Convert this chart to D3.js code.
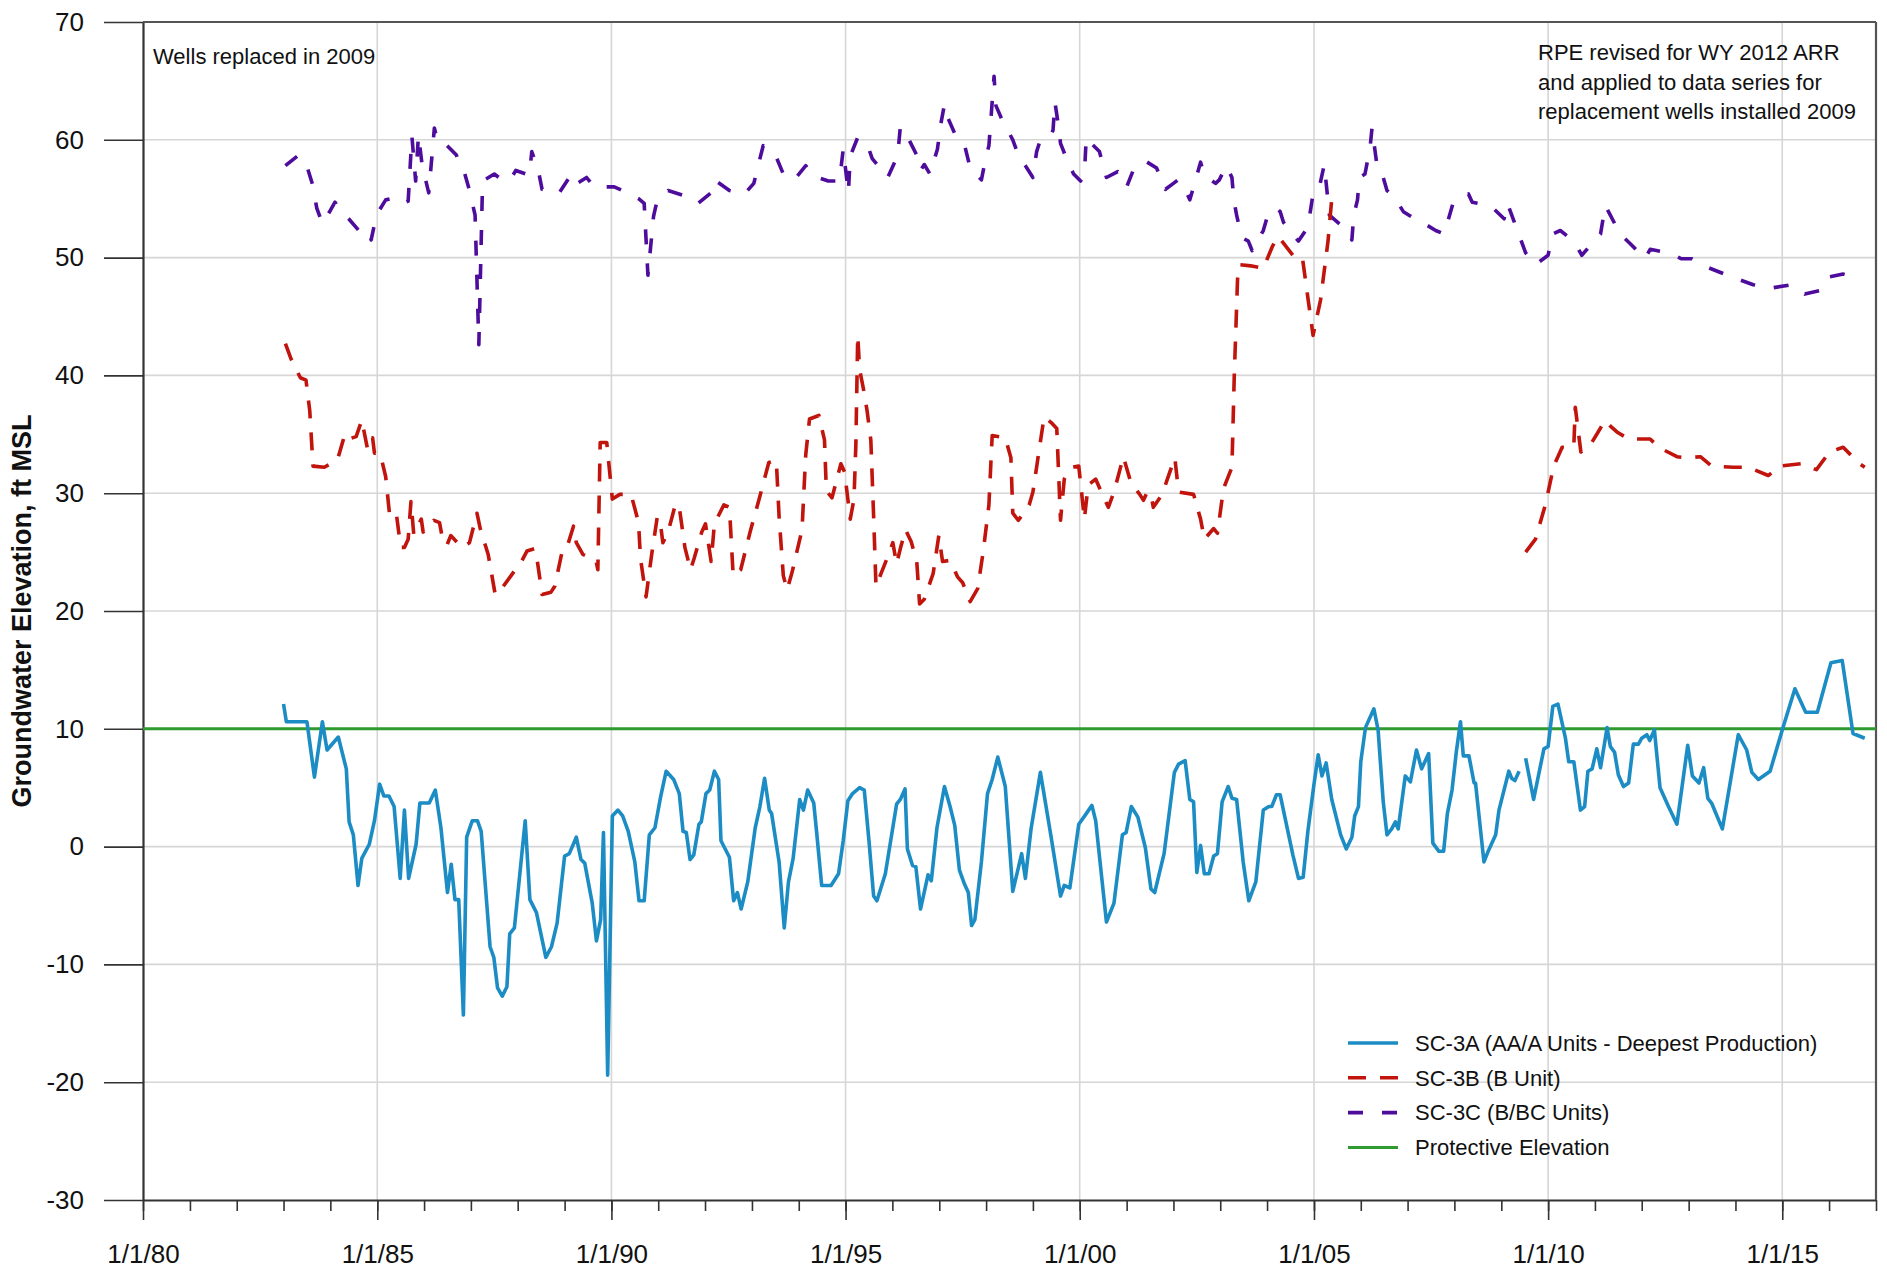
<!DOCTYPE html>
<html><head><meta charset="utf-8">
<script src="https://cdn.jsdelivr.net/npm/d3@7"></script>
<style>body{margin:0;background:#fff}svg{display:block}text{font-family:"Liberation Sans",Arial,Helvetica,sans-serif;fill:#111}</style>
</head><body><svg id="chart" width="1887" height="1273"></svg>
<script>
// ---- data: [decimal year, elevation ft MSL] ----
const sc3aOld = [[1983.00,12.1],[1983.06,10.6],[1983.50,10.6],[1983.66,5.9],[1983.83,10.6],[1983.93,8.2],[1984.17,9.3],[1984.34,6.6],[1984.40,2.1],[1984.49,1.0],[1984.59,-3.3],[1984.67,-1.0],[1984.83,0.2],[1984.94,2.2],[1985.05,5.3],[1985.14,4.3],[1985.25,4.3],[1985.36,3.4],[1985.49,-2.7],[1985.58,3.1],[1985.67,-2.7],[1985.83,0.2],[1985.91,3.7],[1986.11,3.7],[1986.24,4.8],[1986.36,1.6],[1986.50,-3.9],[1986.58,-1.5],[1986.66,-4.5],[1986.74,-4.5],[1986.84,-14.3],[1986.91,0.8],[1987.03,2.2],[1987.14,2.2],[1987.22,1.3],[1987.41,-8.5],[1987.49,-9.4],[1987.57,-12.0],[1987.67,-12.7],[1987.77,-11.9],[1987.83,-7.4],[1987.93,-6.9],[1988.16,2.2],[1988.26,-4.5],[1988.40,-5.6],[1988.60,-9.4],[1988.72,-8.5],[1988.84,-6.5],[1989.00,-0.8],[1989.10,-0.6],[1989.25,0.8],[1989.35,-1.1],[1989.43,-1.4],[1989.59,-4.8],[1989.68,-8.0],[1989.77,-6.2],[1989.83,1.2],[1989.92,-19.4],[1990.02,2.6],[1990.14,3.1],[1990.24,2.6],[1990.36,1.3],[1990.50,-1.3],[1990.59,-4.6],[1990.70,-4.6],[1990.81,1.0],[1990.93,1.6],[1991.05,4.2],[1991.17,6.4],[1991.33,5.7],[1991.45,4.5],[1991.53,1.3],[1991.60,1.2],[1991.68,-1.1],[1991.76,-0.7],[1991.87,1.9],[1991.92,2.1],[1992.02,4.5],[1992.10,4.8],[1992.20,6.4],[1992.29,5.7],[1992.34,0.5],[1992.52,-0.9],[1992.61,-4.6],[1992.69,-3.9],[1992.77,-5.3],[1992.91,-3.0],[1993.07,1.6],[1993.17,3.4],[1993.27,5.8],[1993.37,3.1],[1993.42,2.8],[1993.58,-1.3],[1993.69,-6.9],[1993.78,-3.0],[1993.88,-1.0],[1994.02,4.0],[1994.10,3.1],[1994.19,4.8],[1994.32,3.7],[1994.38,1.3],[1994.49,-3.3],[1994.69,-3.3],[1994.85,-2.3],[1994.95,0.5],[1995.05,3.9],[1995.15,4.5],[1995.30,5.0],[1995.40,4.8],[1995.50,0.5],[1995.60,-4.2],[1995.67,-4.6],[1995.85,-2.3],[1996.09,3.6],[1996.17,4.0],[1996.27,4.9],[1996.32,-0.2],[1996.43,-1.6],[1996.50,-1.7],[1996.60,-5.3],[1996.76,-2.4],[1996.83,-2.9],[1996.95,1.6],[1997.11,5.1],[1997.23,3.4],[1997.33,1.8],[1997.43,-2.0],[1997.54,-3.2],[1997.62,-3.9],[1997.69,-6.7],[1997.76,-6.2],[1997.90,-1.3],[1998.03,4.5],[1998.13,5.7],[1998.25,7.6],[1998.41,5.1],[1998.57,-3.8],[1998.76,-0.6],[1998.84,-2.7],[1998.96,1.5],[1999.16,6.3],[1999.39,0.8],[1999.59,-4.2],[1999.67,-3.3],[1999.79,-3.5],[1999.98,1.9],[2000.14,2.8],[2000.26,3.5],[2000.34,2.2],[2000.57,-6.4],[2000.73,-4.8],[2000.91,1.0],[2000.99,1.2],[2001.10,3.4],[2001.24,2.5],[2001.40,-0.1],[2001.52,-3.6],[2001.60,-3.9],[2001.80,-0.6],[2002.02,6.3],[2002.11,7.0],[2002.25,7.3],[2002.35,4.0],[2002.43,3.8],[2002.50,-2.2],[2002.58,0.1],[2002.66,-2.3],[2002.76,-2.3],[2002.86,-0.8],[2002.94,-0.6],[2003.04,3.8],[2003.17,5.1],[2003.25,4.1],[2003.35,4.0],[2003.49,-1.3],[2003.61,-4.6],[2003.76,-3.0],[2003.92,3.1],[2004.04,3.4],[2004.10,3.4],[2004.20,4.4],[2004.28,4.4],[2004.55,-0.7],[2004.67,-2.7],[2004.77,-2.6],[2004.87,1.3],[2005.00,5.3],[2005.09,7.8],[2005.17,6.0],[2005.26,7.1],[2005.38,4.0],[2005.57,1.0],[2005.69,-0.2],[2005.81,0.8],[2005.87,2.6],[2005.95,3.4],[2006.00,7.2],[2006.10,10.1],[2006.28,11.7],[2006.37,9.9],[2006.48,3.8],[2006.56,1.0],[2006.66,1.5],[2006.74,2.1],[2006.80,1.5],[2006.95,6.0],[2007.06,5.5],[2007.19,8.2],[2007.30,6.6],[2007.45,7.9],[2007.54,0.3],[2007.67,-0.4],[2007.77,-0.4],[2007.85,2.8],[2007.95,4.8],[2008.04,8.0],[2008.13,10.6],[2008.19,7.7],[2008.31,7.7],[2008.42,5.4],[2008.45,5.4],[2008.63,-1.3],[2008.73,-0.3],[2008.88,1.0],[2008.95,3.1],[2009.16,6.4],[2009.22,5.8],[2009.29,5.6],[2009.38,6.4]];
const sc3aNew = [[2009.52,7.5],[2009.69,4.0],[2009.91,8.3],[2010.00,8.5],[2010.10,11.9],[2010.21,12.1],[2010.37,9.2],[2010.44,7.2],[2010.55,7.2],[2010.69,3.1],[2010.78,3.4],[2010.85,6.4],[2010.94,6.6],[2011.04,8.3],[2011.12,6.7],[2011.26,10.1],[2011.33,8.5],[2011.42,8.0],[2011.50,6.1],[2011.61,5.1],[2011.72,5.4],[2011.82,8.7],[2011.93,8.7],[2012.00,9.2],[2012.11,9.5],[2012.17,9.0],[2012.27,9.9],[2012.39,5.0],[2012.57,3.4],[2012.75,1.9],[2012.98,8.6],[2013.08,6.0],[2013.22,5.4],[2013.32,6.7],[2013.41,4.1],[2013.49,3.7],[2013.72,1.5],[2014.06,9.5],[2014.24,8.2],[2014.35,6.3],[2014.49,5.7],[2014.74,6.4],[2015.00,9.9],[2015.27,13.4],[2015.50,11.4],[2015.75,11.4],[2016.04,15.6],[2016.28,15.8],[2016.51,9.6],[2016.76,9.2]];
const sc3bOld = [[1983.04,42.7],[1983.16,41.4],[1983.36,39.8],[1983.48,39.6],[1983.56,37.0],[1983.63,32.3],[1983.87,32.2],[1984.15,32.8],[1984.31,35.0],[1984.39,34.6],[1984.55,34.8],[1984.67,36.2],[1984.79,33.8],[1984.83,34.7],[1984.90,34.7],[1984.94,33.4],[1985.06,33.4],[1985.18,31.4],[1985.26,28.3],[1985.40,28.5],[1985.50,25.4],[1985.58,25.4],[1985.66,26.1],[1985.72,29.3],[1985.78,26.5],[1985.86,27.2],[1985.94,27.8],[1985.98,26.7],[1986.21,27.7],[1986.33,27.5],[1986.40,26.0],[1986.49,25.6],[1986.57,26.4],[1986.81,25.4],[1986.97,25.8],[1987.13,28.3],[1987.20,27.0],[1987.37,24.8],[1987.52,21.4],[1987.60,21.6],[1987.84,22.9],[1988.08,24.2],[1988.20,25.1],[1988.36,25.3],[1988.42,24.2],[1988.52,21.4],[1988.71,21.6],[1988.79,22.1],[1988.95,25.1],[1989.05,25.4],[1989.19,27.2],[1989.25,25.8],[1989.39,24.8],[1989.67,24.3],[1989.71,23.5],[1989.76,34.3],[1989.90,34.3],[1990.02,29.5],[1990.18,29.9],[1990.42,29.9],[1990.58,27.5],[1990.62,24.5],[1990.74,21.2],[1990.86,24.8],[1990.98,28.0],[1991.06,27.0],[1991.10,25.8],[1991.21,26.7],[1991.37,29.1],[1991.45,28.8],[1991.57,25.4],[1991.69,23.5],[1991.77,24.5],[1991.93,26.7],[1992.01,27.4],[1992.13,24.2],[1992.20,27.4],[1992.40,29.0],[1992.52,28.8],[1992.60,23.0],[1992.76,23.5],[1992.96,26.7],[1993.16,29.6],[1993.36,32.6],[1993.52,32.8],[1993.58,28.0],[1993.67,23.0],[1993.75,21.8],[1993.83,22.9],[1993.87,23.5],[1994.07,26.9],[1994.11,30.2],[1994.15,33.3],[1994.23,36.3],[1994.43,36.6],[1994.55,34.5],[1994.59,30.2],[1994.71,29.6],[1994.90,32.5],[1994.98,31.8],[1995.10,27.8],[1995.18,29.5],[1995.22,34.1],[1995.26,43.4],[1995.30,40.5],[1995.38,38.9],[1995.46,37.0],[1995.54,34.5],[1995.60,28.0],[1995.65,22.1],[1995.89,24.5],[1996.01,25.8],[1996.09,24.0],[1996.17,25.3],[1996.28,26.9],[1996.40,25.9],[1996.52,24.2],[1996.58,20.6],[1996.68,21.0],[1996.87,23.2],[1996.99,26.4],[1997.07,24.2],[1997.23,24.3],[1997.39,22.9],[1997.50,22.4],[1997.66,20.8],[1997.82,21.9],[1997.94,25.1],[1998.06,29.0],[1998.13,34.9],[1998.41,34.7],[1998.53,33.0],[1998.57,28.3],[1998.69,27.7],[1998.92,29.0],[1999.00,30.1],[1999.12,33.3],[1999.24,36.5],[1999.39,36.0],[1999.51,35.5],[1999.59,27.7],[1999.67,31.2],[1999.83,32.2],[1999.98,32.3],[2000.10,27.8],[2000.18,30.7],[2000.34,31.2],[2000.46,30.1],[2000.61,28.8],[2000.73,30.1],[2000.93,33.1],[2001.09,30.9],[2001.28,29.9],[2001.36,29.4],[2001.44,30.1],[2001.52,29.9],[2001.57,28.8],[2001.76,29.9],[2001.87,31.2],[2002.03,33.0],[2002.11,30.1],[2002.43,29.9],[2002.58,27.8],[2002.66,26.1],[2002.86,27.0],[2002.94,26.6],[2003.07,30.4],[2003.25,32.2],[2003.30,40.0],[2003.37,48.2],[2003.41,49.4],[2003.65,49.3],[2003.92,49.1],[2004.12,51.0],[2004.24,51.8],[2004.55,50.2],[2004.75,50.1],[2004.87,46.6],[2004.98,43.4],[2005.14,46.4],[2005.30,51.4],[2005.38,55.0]];
const sc3bNew = [[2009.52,25.0],[2009.73,26.1],[2009.94,29.0],[2010.12,32.3],[2010.30,33.9],[2010.48,33.8],[2010.55,34.1],[2010.58,37.3],[2010.70,33.5],[2010.87,33.9],[2011.04,35.0],[2011.22,36.2],[2011.33,35.7],[2011.47,35.2],[2011.72,34.6],[2012.18,34.6],[2012.36,33.9],[2012.75,33.1],[2012.96,33.0],[2013.25,33.1],[2013.49,32.3],[2013.96,32.2],[2014.28,32.2],[2014.70,31.5],[2014.95,32.3],[2015.41,32.5],[2015.73,32.0],[2016.01,33.5],[2016.30,33.9],[2016.65,32.5],[2016.76,32.2]];
const sc3c = [[1983.04,57.8],[1983.32,58.7],[1983.52,57.5],[1983.62,56.2],[1983.71,54.2],[1983.83,52.9],[1984.00,54.0],[1984.10,54.7],[1984.23,53.9],[1984.39,53.3],[1984.63,52.2],[1984.81,52.3],[1984.87,51.5],[1984.98,53.6],[1985.18,54.9],[1985.30,55.0],[1985.42,55.0],[1985.55,54.6],[1985.66,54.8],[1985.74,60.3],[1985.82,56.5],[1985.88,60.4],[1985.96,57.8],[1986.10,55.5],[1986.22,61.0],[1986.28,60.0],[1986.37,60.0],[1986.69,58.7],[1986.77,57.8],[1986.85,57.4],[1986.97,55.7],[1987.09,53.6],[1987.17,42.6],[1987.25,56.5],[1987.50,57.1],[1987.70,56.5],[1987.84,56.6],[1987.96,57.4],[1988.25,57.0],[1988.30,59.0],[1988.44,57.4],[1988.52,55.8],[1988.67,55.7],[1988.87,55.4],[1989.15,57.1],[1989.27,56.3],[1989.47,56.8],[1989.63,56.0],[1990.06,56.0],[1990.34,55.5],[1990.58,55.0],[1990.70,54.6],[1990.78,48.5],[1990.90,53.5],[1990.98,54.9],[1991.21,55.7],[1991.60,55.2],[1991.85,54.6],[1992.13,55.5],[1992.20,56.6],[1992.52,55.7],[1992.84,55.4],[1993.04,56.3],[1993.12,57.6],[1993.24,59.5],[1993.48,58.9],[1993.67,57.1],[1993.90,56.6],[1994.15,57.8],[1994.27,57.0],[1994.63,56.5],[1994.87,56.5],[1994.95,59.2],[1995.06,55.5],[1995.10,58.6],[1995.26,60.2],[1995.50,59.2],[1995.57,58.4],[1995.90,56.8],[1996.05,58.1],[1996.13,59.4],[1996.17,61.1],[1996.33,60.2],[1996.52,58.7],[1996.60,57.4],[1996.68,57.9],[1996.80,57.1],[1996.96,59.2],[1997.03,61.3],[1997.11,63.0],[1997.19,61.8],[1997.39,60.0],[1997.55,59.4],[1997.66,57.6],[1997.90,56.6],[1997.98,58.2],[1998.06,59.5],[1998.10,61.6],[1998.17,65.4],[1998.21,62.9],[1998.33,61.8],[1998.57,60.0],[1998.69,58.7],[1998.84,57.8],[1999.00,56.8],[1999.08,59.0],[1999.16,60.0],[1999.35,60.2],[1999.43,60.8],[1999.47,63.2],[1999.55,61.1],[1999.59,59.7],[1999.75,58.1],[1999.87,57.1],[2000.02,56.5],[2000.10,57.1],[2000.14,60.2],[2000.22,59.8],[2000.42,59.0],[2000.57,56.8],[2000.81,57.3],[2001.00,56.0],[2001.13,57.3],[2001.32,58.1],[2001.40,58.2],[2001.64,57.6],[2001.83,55.8],[2002.00,56.3],[2002.10,56.6],[2002.23,56.0],[2002.35,54.9],[2002.58,58.1],[2002.66,57.0],[2002.90,56.3],[2002.98,56.6],[2003.13,57.8],[2003.25,56.8],[2003.29,54.9],[2003.35,53.6],[2003.46,51.7],[2003.60,51.4],[2003.68,50.6],[2003.92,52.3],[2004.00,53.4],[2004.12,54.1],[2004.20,54.2],[2004.28,53.9],[2004.35,53.0],[2004.67,51.4],[2004.87,52.6],[2004.98,55.4],[2005.10,55.7],[2005.22,57.9],[2005.33,53.6],[2005.65,52.5],[2005.81,51.5],[2005.85,53.6],[2005.93,54.9],[2005.97,56.8],[2006.09,57.1],[2006.20,59.4],[2006.24,61.0],[2006.36,57.4],[2006.48,56.8],[2006.56,55.7],[2006.64,55.4],[2006.80,54.6],[2006.91,53.9],[2007.11,53.4],[2007.27,53.1],[2007.60,52.3],[2007.78,52.0],[2007.97,54.6],[2008.01,54.7],[2008.30,55.4],[2008.38,54.7],[2008.77,54.4],[2009.06,53.3],[2009.13,54.6],[2009.27,53.1],[2009.52,50.4],[2009.73,49.4],[2010.00,50.2],[2010.09,52.0],[2010.26,52.3],[2010.55,51.4],[2010.72,50.2],[2010.94,51.2],[2011.12,52.0],[2011.22,54.4],[2011.29,53.9],[2011.54,52.0],[2011.75,51.2],[2012.07,49.9],[2012.18,50.7],[2012.57,50.4],[2012.85,49.9],[2013.07,49.9],[2013.32,49.3],[2013.64,48.8],[2013.96,48.3],[2014.38,47.7],[2014.74,47.4],[2015.20,47.7],[2015.48,46.9],[2015.80,47.2],[2015.94,48.3],[2016.30,48.6],[2016.69,48.1]];
const protectiveElevation = 10;
const xDomainYears = [1980, 2017];
const yTicks = [-30,-20,-10,0,10,20,30,40,50,60,70];
const majorYears = [1980,1985,1990,1995,2000,2005,2010,2015];
const legendLabels = ["SC-3A (AA/A Units - Deepest Production)","SC-3B (B Unit)","SC-3C (B/BC Units)","Protective Elevation"];
const noteLeft = "Wells replaced in 2009";
const noteRight = ["RPE revised for WY 2012 ARR","and applied to data series for","replacement wells installed 2009"];
const yTitle = "Groundwater Elevation, ft MSL";

// ---- layout / styles ----
const X0 = 143, X1 = 1876, Y0 = 22, Y1 = 1200;
const C = {a:"#1c8cc4", b:"#c0140c", c:"#4e0c9c", p:"#2f9a2f", axis:"#333", grid:"#d6d6d6"};

const toDate = v => { const yr = Math.floor(v); const s = new Date(yr,0,1), e = new Date(yr+1,0,1); return new Date(+s + (v-yr)*(e-s)); };
const svg = d3.select("#chart");
svg.append("rect").attr("width",1887).attr("height",1273).attr("fill","#fff");

const x = d3.scaleTime().domain(xDomainYears.map(v=>new Date(v,0,1))).range([X0,X1]);
const y = d3.scaleLinear().domain([-30,70]).range([Y1,Y0]);

// grid
const g = svg.append("g");
g.selectAll(".vg").data(majorYears.filter(v=>v>1980)).join("line")
  .attr("x1",d=>x(new Date(d,0,1))).attr("x2",d=>x(new Date(d,0,1))).attr("y1",Y0).attr("y2",Y1)
  .attr("stroke",C.grid).attr("stroke-width",1.6);
g.selectAll(".hg").data(yTicks.filter(v=>v>-30&&v<70)).join("line")
  .attr("x1",X0).attr("x2",X1).attr("y1",d=>y(d)).attr("y2",d=>y(d))
  .attr("stroke",C.grid).attr("stroke-width",1.6);

// axes
const minorAx = svg.append("g").attr("transform",`translate(0,${Y1})`)
  .call(d3.axisBottom(x).ticks(d3.timeYear.every(1)).tickSize(11).tickFormat(""));
minorAx.select(".domain").remove();
minorAx.selectAll("line").attr("stroke",C.axis).attr("stroke-width",1.6);

const xAx = svg.append("g").attr("transform",`translate(0,${Y1})`)
  .call(d3.axisBottom(x).tickValues(majorYears.map(v=>new Date(v,0,1))).tickSize(20).tickSizeOuter(0)
    .tickFormat(d=>"1/1/"+String(d.getFullYear()).slice(2)));
xAx.select(".domain").attr("stroke",C.axis).attr("stroke-width",2.2);
xAx.selectAll("line").attr("stroke",C.axis).attr("stroke-width",1.6);
xAx.selectAll("text").attr("y",45).attr("dy","0.71em").attr("font-size",26).attr("fill","#111").attr("font-family",'"Liberation Sans",Arial,sans-serif');

const yAx = svg.append("g").attr("transform",`translate(${X0},0)`)
  .call(d3.axisLeft(y).tickValues(yTicks).tickSize(39).tickPadding(20).tickSizeOuter(0).tickFormat(d=>d));
yAx.select(".domain").attr("stroke",C.axis).attr("stroke-width",2.2);
yAx.selectAll("line").attr("stroke",C.axis).attr("stroke-width",1.6);
yAx.selectAll("text").attr("font-size",26).attr("fill","#111").attr("font-family",'"Liberation Sans",Arial,sans-serif');

// frame top & right
svg.append("line").attr("x1",X0).attr("x2",X1).attr("y1",Y0).attr("y2",Y0).attr("stroke","#555").attr("stroke-width",2);
svg.append("line").attr("x1",X1).attr("x2",X1).attr("y1",Y0).attr("y2",Y1).attr("stroke","#555").attr("stroke-width",2.2);

// lines
const line = d3.line().x(d=>x(toDate(d[0]))).y(d=>y(d[1]));
const plot = svg.append("g");
plot.append("line").attr("x1",X0).attr("x2",X1).attr("y1",y(protectiveElevation)).attr("y2",y(protectiveElevation))
  .attr("stroke",C.p).attr("stroke-width",3);
const series = [
  {data:sc3c, color:C.c, dash:"15,19"},
  {data:sc3bOld, color:C.b, dash:"18,14"},
  {data:sc3bNew, color:C.b, dash:"18,14"},
  {data:sc3aOld, color:C.a, dash:null},
  {data:sc3aNew, color:C.a, dash:null}
];
series.forEach(s=>{
  plot.append("path").attr("d",line(s.data)).attr("fill","none").attr("stroke",s.color)
    .attr("stroke-width",3.6).attr("stroke-linejoin","round")
    .attr("stroke-dasharray",s.dash);
});

// annotations
svg.append("text").attr("x",153).attr("y",64).attr("font-size",22).text(noteLeft);
svg.append("text").attr("font-size",22).selectAll("tspan").data(noteRight).join("tspan")
  .attr("x",1538).attr("y",(d,i)=>60+i*29.5).text(d=>d);

// y title
svg.append("text").attr("transform",`translate(31,${(Y0+Y1)/2}) rotate(-90)`)
  .attr("text-anchor","middle").attr("font-size",27).attr("font-weight","bold").text(yTitle);

// legend
const legItems = [
  {color:C.a, dash:null, w:3.6},
  {color:C.b, dash:"18,14", w:3.6},
  {color:C.c, dash:"15,19", w:3.6},
  {color:C.p, dash:null, w:3}
];
const leg = svg.append("g");
legItems.forEach((it,i)=>{
  const cy = 1043 + i*34.8;
  leg.append("line").attr("x1",1348).attr("x2",1398).attr("y1",cy).attr("y2",cy)
    .attr("stroke",it.color).attr("stroke-width",it.w).attr("stroke-dasharray",it.dash);
  leg.append("text").attr("x",1415).attr("y",cy).attr("dy","0.35em").attr("font-size",22).text(legendLabels[i]);
});
</script></body></html>
